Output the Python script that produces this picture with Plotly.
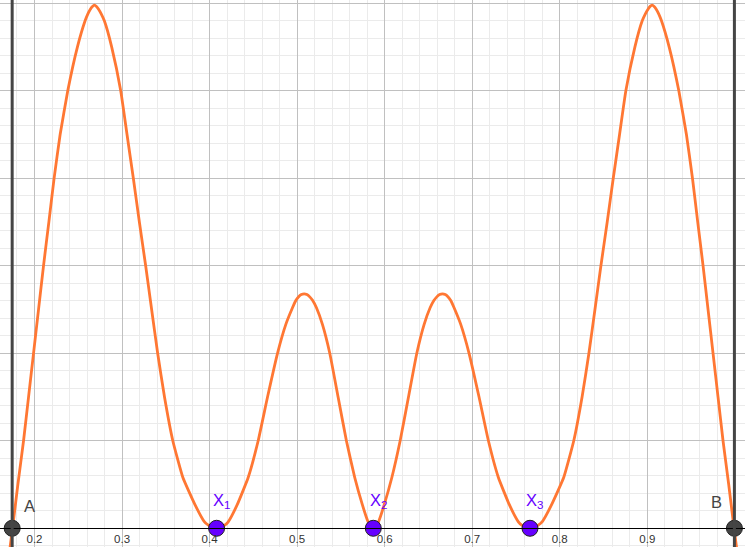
import plotly.graph_objects as go

# end points of the interval and the three nodes on the axis
point_names = ["A", "X<sub>1</sub>", "X<sub>2</sub>", "X<sub>3</sub>", "B"]
point_x = [0.1745, 0.408, 0.587, 0.766, 0.9995]

# curve
curve_x = [0.1709, 0.1749, 0.1810, 0.1875, 0.1932, 0.1989, 0.2046, 0.2103, 0.2164, 0.2224,
           0.2293, 0.2380, 0.2490, 0.2578, 0.2610, 0.2640, 0.2662, 0.2684, 0.2708, 0.2730,
           0.2762, 0.2798, 0.2882, 0.2985, 0.3057, 0.3129, 0.3198, 0.3270, 0.3338, 0.3407,
           0.3485, 0.3580, 0.3695, 0.3833, 0.3937, 0.3990, 0.4035, 0.4080, 0.4125, 0.4170,
           0.4213, 0.4316, 0.4441, 0.4555, 0.4662, 0.4776, 0.4871, 0.4947, 0.4985, 0.5015,
           0.5048, 0.5080, 0.5112, 0.5147, 0.5178, 0.5221, 0.5289, 0.5373, 0.5468, 0.5563,
           0.5658, 0.5745, 0.5810, 0.5835, 0.5852, 0.5870,
           0.5888, 0.5905, 0.5930, 0.5995, 0.6082, 0.6177, 0.6272, 0.6367, 0.6451, 0.6519,
           0.6562, 0.6593, 0.6628, 0.6660, 0.6692, 0.6725, 0.6755, 0.6793, 0.6869, 0.6964,
           0.7078, 0.7185, 0.7299, 0.7424, 0.7527, 0.7570, 0.7615, 0.7660, 0.7705, 0.7750,
           0.7803, 0.7907, 0.8045, 0.8160, 0.8255, 0.8333, 0.8402, 0.8470, 0.8542, 0.8611,
           0.8683, 0.8755, 0.8858, 0.8942, 0.8978, 0.9010, 0.9032, 0.9056, 0.9078, 0.9100,
           0.9130, 0.9162, 0.9250, 0.9360, 0.9447, 0.9516, 0.9576, 0.9637, 0.9694, 0.9751,
           0.9808, 0.9865, 0.9930, 0.9991, 1.0031]
curve_y = [-0.031, 0.0, 0.05, 0.1, 0.15, 0.2, 0.25, 0.3, 0.35, 0.4,
           0.45, 0.5, 0.55, 0.58, 0.588, 0.5935, 0.5965, 0.598, 0.5965, 0.5935,
           0.588, 0.58, 0.55, 0.5, 0.45, 0.4, 0.35, 0.3, 0.25, 0.2,
           0.15, 0.1, 0.058, 0.027, 0.008, 0.0032, 0.0008, 0.0, 0.0008, 0.0032,
           0.0074, 0.027, 0.058, 0.1, 0.15, 0.2, 0.233, 0.252, 0.2603, 0.2644,
           0.2671, 0.268, 0.2671, 0.2642, 0.2603, 0.252, 0.233, 0.2, 0.15, 0.1,
           0.058, 0.027, 0.0074, 0.0025, 0.0007, 0.0,
           0.0007, 0.0025, 0.0074, 0.027, 0.058, 0.1, 0.15, 0.2, 0.233, 0.252,
           0.2603, 0.2642, 0.2671, 0.268, 0.2671, 0.2644, 0.2603, 0.252, 0.233, 0.2,
           0.15, 0.1, 0.058, 0.027, 0.0074, 0.0032, 0.0008, 0.0, 0.0008, 0.0032,
           0.008, 0.027, 0.058, 0.1, 0.15, 0.2, 0.25, 0.3, 0.35, 0.4,
           0.45, 0.5, 0.55, 0.58, 0.588, 0.5935, 0.5965, 0.598, 0.5965, 0.5935,
           0.588, 0.58, 0.55, 0.5, 0.45, 0.4, 0.35, 0.3, 0.25, 0.2,
           0.15, 0.1, 0.05, 0.0, -0.031]

x_ticks = [0.2, 0.3, 0.4, 0.5, 0.6, 0.7, 0.8, 0.9]

x_range = [0.1606, 1.0116]
y_range = [-0.0214, 0.6038]

fig = go.Figure()

# bounding verticals through A and B
for bound in [point_x[0], point_x[-1]]:
    fig.add_vline(x=bound, line=dict(color="#454545", width=3))

fig.add_trace(
    go.Scatter(
        x=curve_x,
        y=curve_y,
        mode="lines",
        line=dict(color="#ff7733", width=2.8, shape="spline", smoothing=0.4),
        hoverinfo="skip"
    )
)

point_colors = ["#444444", "#6600ff", "#6600ff", "#6600ff", "#444444"]

fig.add_trace(
    go.Scatter(
        x=point_x,
        y=[0] * len(point_x),
        mode="markers",
        marker=dict(size=16, color=point_colors, line=dict(color="#222222", width=1)),
        cliponaxis=False
    )
)

label_shifts = [(17, 22), (5, 27), (5, 27), (5, 27), (-18, 26)]
for name, px, color, shift in zip(point_names, point_x, point_colors, label_shifts):
    fig.add_annotation(
        x=px,
        y=0,
        text=name,
        showarrow=False,
        xshift=shift[0],
        yshift=shift[1],
        font=dict(family="Liberation Sans, Arial", size=16.5, color=color)
    )

fig.update_layout(
    width=745,
    height=547,
    margin=dict(l=0, r=0, t=0, b=0),
    plot_bgcolor="white",
    paper_bgcolor="white",
    showlegend=False,
    xaxis=dict(
        range=x_range,
        tickvals=x_ticks,
        ticktext=[str(t) for t in x_ticks],
        ticks="",
        showline=True,
        linecolor="black",
        linewidth=1,
        anchor="free",
        position=(0 - y_range[0]) / (y_range[1] - y_range[0]),
        showgrid=True,
        gridcolor="#c0c0c0",
        gridwidth=1,
        zeroline=False,
        tickfont=dict(family="Liberation Sans, Arial", size=11.5, color="#333333"),
        minor=dict(dtick=0.02, tick0=0, showgrid=True, gridcolor="#ebebeb", gridwidth=1)
    ),
    yaxis=dict(
        range=y_range,
        dtick=0.1,
        tick0=0,
        showticklabels=False,
        showgrid=True,
        gridcolor="#c0c0c0",
        gridwidth=1,
        zeroline=False,
        minor=dict(dtick=0.02, tick0=0, showgrid=True, gridcolor="#ebebeb", gridwidth=1)
    )
)

# the page body keeps its default margin otherwise
fig.write_html(
    "out.html",
    config={"displayModeBar": False},
    post_script="document.body.style.margin = '0';"
)
